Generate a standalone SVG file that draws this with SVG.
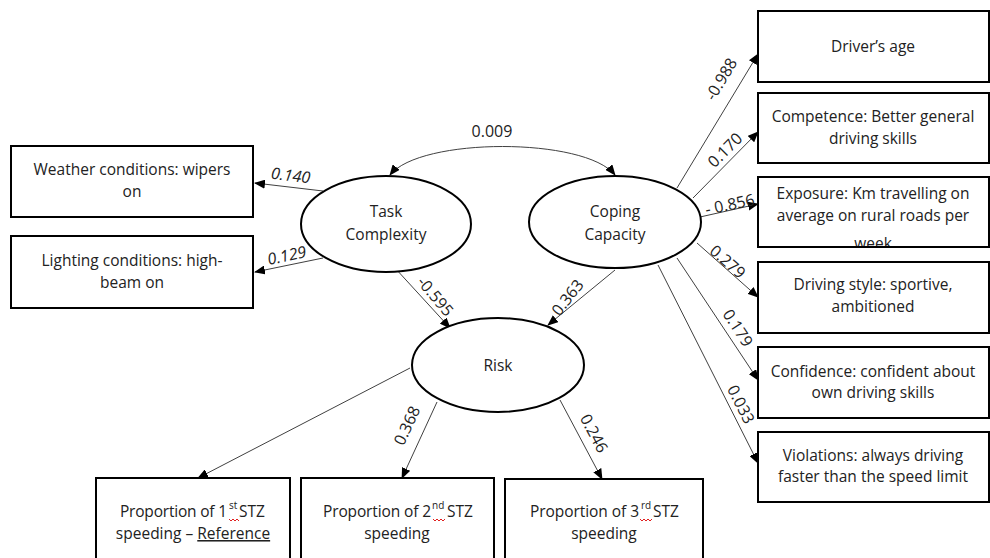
<svg xmlns="http://www.w3.org/2000/svg" width="990" height="558" viewBox="0 0 990 558">
<style>
.box{fill:#fff;stroke:#000;stroke-width:2}
.ell{fill:#fff;stroke:#000;stroke-width:2}
.t{font-family:"Open Sans","Liberation Sans",Arial,sans-serif;font-size:15.5px;fill:#222;text-anchor:middle}
.ts{font-family:"Open Sans","Liberation Sans",Arial,sans-serif;font-size:15.5px;fill:#222}
.sup{font-size:10px}
.lbl{font-family:"Open Sans","Liberation Sans",Arial,sans-serif;font-size:16px;fill:#222;text-anchor:middle}
.it{font-style:italic}
.c{fill:none;stroke:#404040;stroke-width:1;marker-end:url(#ah)}
.sq{fill:none;stroke:#e02020;stroke-width:1}
</style>
<defs>
<marker id="ah" markerWidth="11" markerHeight="9" refX="10" refY="4.5" orient="auto-start-reverse" markerUnits="userSpaceOnUse">
<path d="M0,0 L11,4.5 L0,9 z" fill="#000"/>
</marker>
<clipPath id="cpExp"><rect x="759" y="178" width="231" height="68"/></clipPath>
</defs>

<g id="connectors">
<path class="c" d="M323,191 L255,183"/>
<path class="c" d="M323,258 L255,272"/>
<path class="c" style="marker-start:url(#ah)" d="M390,175 C420,137 585,137 615,175"/>
<path class="c" d="M395,268 L450,328"/>
<path class="c" d="M615,270 L548,325"/>
<path class="c" d="M677,188 L758,54"/>
<path class="c" d="M693,198 L758,132"/>
<path class="c" d="M700,217 L758,204"/>
<path class="c" d="M697,243 L758,297"/>
<path class="c" d="M677,258 L758,380"/>
<path class="c" d="M658,265 L758,463"/>
<path class="c" d="M410,368 L198,478"/>
<path class="c" d="M437,402 L402,478"/>
<path class="c" d="M560,400 L602,479"/>
</g>

<g id="labels">
<text class="lbl it" transform="translate(290,181) rotate(7)">0.140</text>
<text class="lbl it" transform="translate(288,261) rotate(-12)">0.129</text>
<text class="lbl" x="492" y="137">0.009</text>
<text class="lbl" transform="translate(431,300) rotate(50)">-0.595</text>
<text class="lbl" transform="translate(572,301) rotate(-52)">0.363</text>
<text class="lbl" transform="translate(726,82) rotate(-59)">-0.988</text>
<text class="lbl" transform="translate(729,154) rotate(-45)">0.170</text>
<text class="lbl" transform="translate(731,210) rotate(-12)">- 0.856</text>
<text class="lbl" transform="translate(724,266) rotate(41)">0.279</text>
<text class="lbl" transform="translate(733,331) rotate(57)">0.179</text>
<text class="lbl" transform="translate(736,407) rotate(63)">0.033</text>
<text class="lbl" transform="translate(412,428) rotate(-65)">0.368</text>
<text class="lbl" transform="translate(589,436) rotate(62)">0.246</text>
</g>

<g id="weather">
<rect class="box" x="11" y="146" width="242" height="71"/>
<text class="t" x="132" y="175">Weather conditions: wipers</text>
<text class="t" x="132" y="197">on</text>
</g>
<g id="lighting">
<rect class="box" x="11" y="236" width="242" height="72"/>
<text class="t" x="132" y="266">Lighting conditions: high-</text>
<text class="t" x="132" y="288">beam on</text>
</g>

<g id="task">
<ellipse class="ell" cx="386" cy="224" rx="85" ry="48"/>
<text class="t" x="386" y="217">Task</text>
<text class="t" x="386" y="240">Complexity</text>
</g>
<g id="coping">
<ellipse class="ell" cx="615" cy="222" rx="86" ry="46"/>
<text class="t" x="615" y="217">Coping</text>
<text class="t" x="615" y="240">Capacity</text>
</g>
<g id="risk">
<ellipse class="ell" cx="498" cy="365" rx="86" ry="47"/>
<text class="t" x="498" y="371">Risk</text>
</g>

<g id="age">
<rect class="box" x="758" y="11" width="231" height="71"/>
<text class="t" x="873" y="52">Driver’s age</text>
</g>
<g id="competence">
<rect class="box" x="758" y="93" width="231" height="70"/>
<text class="t" x="873" y="122">Competence: Better general</text>
<text class="t" x="873" y="144">driving skills</text>
</g>
<g id="exposure">
<rect class="box" x="758" y="177" width="231" height="70"/>
<g clip-path="url(#cpExp)">
<text class="t" x="873" y="199">Exposure: Km travelling on</text>
<text class="t" x="873" y="221">average on rural roads per</text>
<text class="t" x="873" y="249">week</text>
</g>
</g>
<g id="style">
<rect class="box" x="758" y="262" width="231" height="71"/>
<text class="t" x="873" y="290">Driving style: sportive,</text>
<text class="t" x="873" y="312">ambitioned</text>
</g>
<g id="confidence">
<rect class="box" x="758" y="347" width="231" height="71"/>
<text class="t" x="873" y="377">Confidence: confident about</text>
<text class="t" x="873" y="398">own driving skills</text>
</g>
<g id="violations">
<rect class="box" x="758" y="432" width="231" height="70"/>
<text class="t" x="873" y="461">Violations: always driving</text>
<text class="t" x="873" y="482">faster than the speed limit</text>
</g>

<g id="stz1">
<rect class="box" x="96" y="478" width="194" height="92"/>
<text class="ts" x="120" y="517" textLength="107" lengthAdjust="spacing">Proportion of 1</text>
<text class="ts sup" x="229" y="509">st</text>
<text class="ts" x="239" y="517">STZ</text>
<path class="sq" d="M229,519 l2,2 l2,-2 l2,2 l2,-2 l2,2"/>
<text class="t" x="193" y="539">speeding – <tspan text-decoration="underline">Reference</tspan></text>
</g>
<g id="stz2">
<rect class="box" x="301" y="478" width="193" height="92"/>
<text class="ts" x="323" y="517" textLength="108" lengthAdjust="spacing">Proportion of 2</text>
<text class="ts sup" x="432" y="509">nd</text>
<text class="ts" x="447" y="517">STZ</text>
<path class="sq" d="M433,519 l2,2 l2,-2 l2,2 l2,-2 l2,2 l2,-2"/>
<text class="t" x="397" y="539">speeding</text>
</g>
<g id="stz3">
<rect class="box" x="505" y="479" width="198" height="91"/>
<text class="ts" x="530" y="517" textLength="109" lengthAdjust="spacing">Proportion of 3</text>
<text class="ts sup" x="641" y="509">rd</text>
<text class="ts" x="653" y="517">STZ</text>
<path class="sq" d="M640,519 l2,2 l2,-2 l2,2 l2,-2 l2,2 l2,-2"/>
<text class="t" x="604" y="539">speeding</text>
</g>
</svg>
